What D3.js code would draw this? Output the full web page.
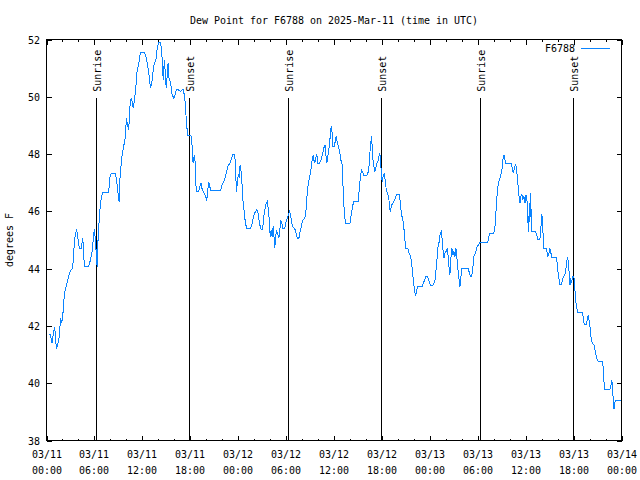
<!DOCTYPE html>
<html><head><meta charset="utf-8">
<script src="https://cdn.jsdelivr.net/npm/d3@7"></script>
<style>body{margin:0;background:#fff}svg{display:block}</style>
</head><body>
<script>
const chartTitle = "Dew Point for F6788 on 2025-Mar-11 (time in UTC)";
const yLabel = "degrees F";
const seriesName = "F6788";
// hours since 03/11 00:00 UTC
const hours = [0.27,0.48,0.70,0.86,1.02,1.24,1.53,1.65,1.74,1.90,2.03,2.16,2.28,2.46,2.58,2.71,2.87,3.09,3.25,3.38,3.46,3.59,3.75,3.88,4.01,4.13,4.35,4.47,4.55,4.67,4.80,5.28,5.50,5.71,5.91,6.00,6.13,6.25,6.34,6.42,6.54,6.67,6.84,7.01,7.79,7.92,8.09,8.63,8.76,8.92,9.01,9.10,9.17,9.26,
9.47,9.67,9.88,10.01,10.17,10.30,10.42,10.60,10.73,10.85,11.02,11.18,11.36,11.55,11.76,12.26,12.52,12.68,12.86,13.02,13.18,13.35,13.51,13.68,13.85,14.02,14.27,14.39,14.52,14.61,14.68,14.77,14.94,15.02,15.15,15.23,15.35,15.52,15.73,15.93,16.06,16.18,16.36,16.78,16.99,17.15,
17.33,17.46,17.58,17.71,18.09,18.21,18.28,18.36,18.44,18.53,18.62,18.69,18.78,19.07,19.18,19.36,19.49,19.61,19.78,19.94,20.07,20.19,20.32,20.53,20.62,21.79,21.99,22.20,22.41,22.54,22.75,22.95,23.13,23.33,23.58,23.67,23.79,23.88,24.01,24.12,24.20,24.29,24.41,24.54,24.63,24.79,24.88,25.01,25.13,25.55,25.76,
25.88,26.04,26.29,26.46,26.58,26.71,26.88,27.05,27.14,27.21,27.34,27.46,27.64,27.76,27.89,27.97,28.05,28.13,28.26,28.38,28.46,28.58,28.67,28.80,28.92,29.09,29.21,29.34,29.47,29.59,29.81,29.97,30.14,30.26,30.43,30.55,30.68,30.84,31.09,31.27,31.40,31.60,31.72,31.85,32.02,
32.14,32.34,32.47,32.59,32.72,32.84,32.97,33.15,33.27,33.40,33.47,33.60,33.73,33.85,33.98,34.14,34.31,34.43,34.60,34.72,34.90,35.02,35.10,35.23,35.40,35.57,35.65,35.78,35.86,36.03,36.15,36.27,36.40,36.60,36.73,36.85,37.03,37.10,37.19,37.32,37.44,37.99,38.16,38.33,38.49,
39.04,39.11,39.20,39.32,39.45,39.57,39.74,40.08,40.24,40.37,40.46,40.58,40.71,40.83,40.99,41.11,41.24,41.36,41.49,41.62,41.74,41.83,41.96,42.04,42.17,42.30,42.42,42.55,42.67,42.84,42.96,43.04,43.17,43.33,43.49,43.67,43.80,44.21,44.34,44.46,44.63,44.75,44.88,45.00,
45.25,45.42,45.59,45.71,45.84,45.96,46.09,46.22,46.34,46.51,47.05,47.17,47.34,47.50,47.72,47.84,48.01,48.13,48.35,48.51,48.69,48.81,48.94,49.05,49.18,49.30,49.43,49.51,49.63,49.76,49.85,49.97,50.10,50.19,50.26,50.39,50.51,50.64,50.76,50.89,51.02,51.14,51.27,51.39,51.57,51.70,51.77,51.90,52.02,
52.81,52.97,53.10,53.22,53.35,53.44,53.51,53.69,53.81,53.93,54.10,54.26,55.23,55.35,55.51,56.01,56.14,56.23,56.32,56.44,56.57,56.73,56.86,57.02,57.15,57.28,57.40,57.53,58.20,58.32,58.45,58.58,58.74,58.86,58.99,59.08,59.20,59.28,59.40,59.53,59.65,59.78,59.91,60.03,60.21,60.28,60.37,60.46,60.53,60.62,60.71,60.78,
61.24,61.37,61.53,61.78,61.87,61.96,62.03,62.12,62.21,62.29,62.54,62.66,62.79,62.92,63.04,63.17,63.29,63.87,64.00,64.13,64.29,64.50,64.67,64.88,65.01,65.13,65.26,65.38,65.47,65.55,65.64,65.76,65.89,66.04,66.17,66.29,66.42,66.55,67.10,67.23,67.33,67.60,67.73,67.83,67.95,68.08,
68.22,68.35,68.55,68.68,68.80,68.93,69.06,69.64,69.73,69.81,69.89,70.55,70.68,70.80,70.93,71.06,71.18,71.31,71.90];
// dew point, degrees F
const dewF = [41.71,41.71,41.40,41.76,41.97,41.19,41.50,41.76,42.27,42.10,42.31,42.84,43.16,43.37,43.51,43.67,43.85,43.95,44.01,44.35,44.83,45.14,45.37,45.18,44.88,44.71,44.71,44.94,45.07,44.37,44.09,44.09,44.30,44.59,45.18,45.37,45.00,44.42,44.07,44.83,45.42,45.99,46.42,46.67,46.67,47.16,47.33,47.33,47.10,46.75,46.52,46.34,47.04,47.39,
47.98,48.27,48.62,49.27,48.97,48.85,49.61,49.96,49.84,49.61,49.90,50.31,50.95,51.13,51.56,51.56,51.32,51.07,50.72,50.31,50.48,50.89,51.18,51.24,51.65,51.91,51.91,51.65,51.18,50.60,50.95,51.30,50.48,50.31,50.95,51.18,50.60,50.54,50.08,49.96,50.02,50.19,50.27,50.19,50.25,50.25,
49.90,49.38,48.92,48.64,48.64,48.38,47.92,47.68,47.86,47.98,47.68,46.98,46.69,46.69,46.87,46.98,46.77,46.69,46.63,46.52,46.38,46.75,47.01,46.77,46.72,46.72,46.95,47.04,47.22,47.39,47.59,47.68,47.80,47.98,47.98,47.45,46.69,46.98,47.28,47.22,47.57,47.63,47.22,46.75,46.23,45.93,45.64,45.47,45.39,45.39,45.58,
45.76,45.93,46.05,45.99,45.76,45.53,45.37,45.37,45.58,45.82,46.05,46.23,46.34,46.11,45.70,45.29,45.12,45.35,45.12,45.47,45.23,44.71,45.06,45.35,45.23,45.06,45.35,45.70,45.58,45.39,45.39,45.61,45.76,45.84,45.99,45.88,45.64,45.47,45.39,45.23,45.06,45.06,45.23,45.41,45.61,
45.72,45.76,45.93,46.46,46.84,47.04,47.22,47.51,47.80,47.98,47.80,47.68,47.89,47.98,47.68,47.68,47.74,47.86,48.03,48.21,48.33,47.86,47.68,47.92,48.27,48.73,48.97,48.73,48.27,48.27,48.44,48.62,48.44,48.21,48.03,47.80,47.63,47.10,46.40,45.88,45.58,45.58,45.88,46.19,46.34,
46.34,46.58,46.93,47.22,47.45,47.39,47.24,47.24,47.33,47.51,47.92,48.33,48.64,47.92,47.57,47.39,47.51,47.68,47.74,47.92,48.03,47.74,47.22,47.04,47.24,47.33,47.04,46.75,46.66,46.52,46.17,45.99,46.17,46.28,46.34,46.46,46.58,46.58,46.17,45.88,45.70,45.42,45.00,44.71,
44.71,44.53,44.42,44.24,43.83,43.54,43.25,43.04,43.25,43.39,43.39,43.48,43.60,43.72,43.72,43.60,43.48,43.40,43.40,43.48,43.66,44.07,44.48,44.83,44.94,45.23,45.29,45.12,44.71,44.36,44.53,44.56,44.65,44.71,44.53,44.07,43.78,44.36,44.71,44.48,44.59,44.42,44.71,44.36,43.83,43.54,43.37,43.72,44.01,
44.01,43.83,43.72,43.74,43.89,44.18,44.42,44.53,44.65,44.77,44.83,44.91,44.91,45.06,45.23,45.23,45.42,45.70,46.17,46.66,46.98,47.10,47.22,47.43,47.80,47.98,47.80,47.66,47.66,47.51,47.33,47.51,47.66,47.45,47.10,46.77,46.46,46.28,46.52,46.58,46.40,46.52,46.28,46.58,46.28,45.64,45.29,46.28,45.64,46.63,45.64,45.29,
45.29,45.18,45.02,45.02,45.29,45.64,45.91,45.58,45.00,44.71,44.71,44.59,44.42,44.53,44.71,44.53,44.39,44.39,44.01,43.72,43.46,43.46,43.66,43.78,43.89,44.24,44.39,44.13,43.72,43.43,43.62,43.54,43.72,43.72,43.25,42.83,42.59,42.46,42.46,42.27,42.06,42.06,42.26,42.38,42.17,41.91,
41.52,41.38,41.33,41.15,40.98,40.86,40.77,40.77,40.45,40.04,39.79,39.79,39.93,40.10,39.58,39.11,39.34,39.40,39.40];
const sunriseHours = [6.25, 30.21, 54.26];
const sunsetHours = [17.81, 41.86, 65.91];
const xTickHours = [0,6,12,18,24,30,36,42,48,54,60,66,72];
const xTickDates = ["03/11","03/11","03/11","03/11","03/12","03/12","03/12","03/12","03/13","03/13","03/13","03/13","03/14"];
const xTickTimes = ["00:00","06:00","12:00","18:00","00:00","06:00","12:00","18:00","00:00","06:00","12:00","18:00","00:00"];
const xMinorHours = [2,4,8,10,14,16,20,22,26,28,32,34,38,40,44,46,50,52,56,58,62,64,68,70];
const yTicks = [38,40,42,44,46,48,50,52];

const W = 640, H = 480;
const FONT = "'DejaVu Sans Mono', 'Liberation Mono', monospace";
const CW = 6; // char advance
const x = d3.scaleLinear().domain([0, 72]).range([46.5, 621.5]);
const y = d3.scaleLinear().domain([38, 52]).range([440.5, 39.5]);
const lineColor = "#0a84ff";

const svg = d3.select("body").append("svg").attr("width", W).attr("height", H)
  .style("font-family", FONT).style("font-size", "11px");
svg.append("rect").attr("width", W).attr("height", H).attr("fill", "#fff");

function mono(sel, str) {
  sel.text(str).attr("textLength", str.length * CW).attr("lengthAdjust", "spacingAndGlyphs");
  return sel;
}

const axes = svg.append("g").attr("shape-rendering", "crispEdges");
function styleAxis(g) {
  g.selectAll("path.domain").remove();
  g.selectAll("line").attr("stroke", "#000");
  g.selectAll("text").remove();
}
axes.append("g").attr("transform", `translate(0,${y(38)})`)
  .call(d3.axisBottom(x).tickValues(xTickHours).tickSize(-5).tickFormat("")).call(styleAxis);
axes.append("g").attr("transform", `translate(0,${y(38)})`)
  .call(d3.axisBottom(x).tickValues(xMinorHours).tickSize(-2).tickFormat("")).call(styleAxis);
axes.append("g").attr("transform", `translate(0,${y(52)})`)
  .call(d3.axisTop(x).tickValues(xTickHours).tickSize(-5).tickFormat("")).call(styleAxis);
axes.append("g").attr("transform", `translate(0,${y(52)})`)
  .call(d3.axisTop(x).tickValues(xMinorHours).tickSize(-2).tickFormat("")).call(styleAxis);
axes.append("g").attr("transform", `translate(${x(0)},0)`)
  .call(d3.axisLeft(y).tickValues(yTicks).tickSize(-5).tickFormat("")).call(styleAxis);
axes.append("g").attr("transform", `translate(${x(72)},0)`)
  .call(d3.axisRight(y).tickValues(yTicks).tickSize(-5).tickFormat("")).call(styleAxis);

// sunrise / sunset markers
const marks = sunriseHours.map(h => ({h, label: "Sunrise"}))
  .concat(sunsetHours.map(h => ({h, label: "Sunset"})));
marks.forEach(m => {
  const px = Math.round(x(m.h)) + 0.5;
  axes.append("line").attr("x1", px).attr("x2", px).attr("y1", y(38)).attr("y2", y(50) + 1)
    .attr("stroke", "#000");
  const t = svg.append("text").attr("transform", `translate(${px + 4},${y(50) - 5}) rotate(-90)`)
    .attr("fill", "#000");
  mono(t, m.label);
});

// frame
axes.append("rect").attr("x", x(0)).attr("y", y(52)).attr("width", x(72) - x(0)).attr("height", y(38) - y(52))
  .attr("fill", "none").attr("stroke", "#000");

// data line
const pts = hours.map((h, i) => [h, dewF[i]]);
svg.append("path").datum(pts)
  .attr("d", d3.line().x(d => x(d[0])).y(d => y(d[1])))
  .attr("fill", "none").attr("stroke", lineColor).attr("stroke-width", 1)
  .attr("shape-rendering", "crispEdges");

// y tick labels
yTicks.forEach(v => {
  const t = svg.append("text").attr("x", 40).attr("y", Math.round(y(v)) + 4).attr("text-anchor", "end");
  mono(t, String(v));
});
// x tick labels
xTickHours.forEach((h, i) => {
  const cx = Math.round(x(h));
  mono(svg.append("text").attr("x", cx).attr("y", 458).attr("text-anchor", "middle"), xTickDates[i]);
  mono(svg.append("text").attr("x", cx).attr("y", 474).attr("text-anchor", "middle"), xTickTimes[i]);
});

// title
mono(svg.append("text").attr("x", (x(0) + x(72)) / 2).attr("y", 24).attr("text-anchor", "middle"), chartTitle);
// y label
mono(svg.append("text").attr("transform", "translate(13,240) rotate(-90)").attr("text-anchor", "middle"), yLabel);

// legend
mono(svg.append("text").attr("x", 575).attr("y", 52).attr("text-anchor", "end"), seriesName);
svg.append("line").attr("x1", 581).attr("x2", 610).attr("y1", 48.5).attr("y2", 48.5)
  .attr("stroke", lineColor).attr("shape-rendering", "crispEdges");
</script>
</body></html>
